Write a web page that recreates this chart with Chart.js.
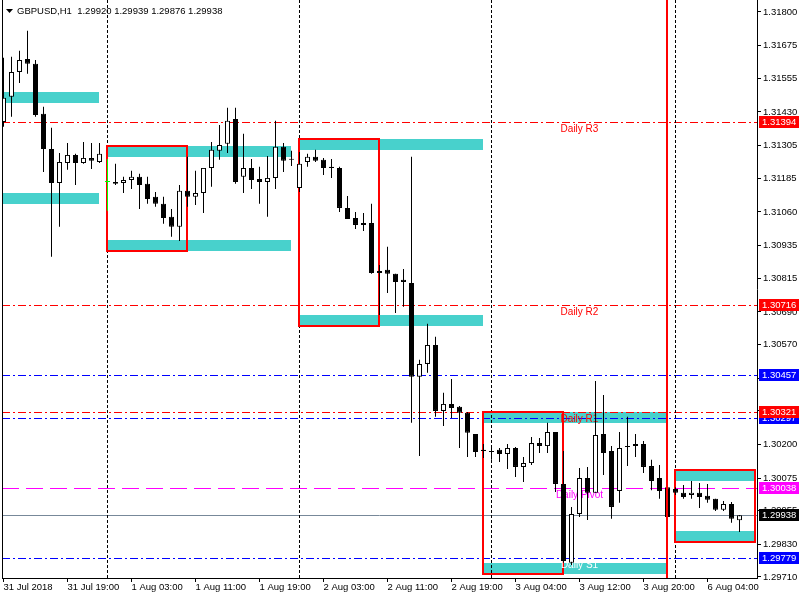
<!DOCTYPE html>
<html>
<head>
<meta charset="utf-8">
<title>GBPUSD,H1</title>
<script src="https://cdn.jsdelivr.net/npm/chart.js@4.4.0/dist/chart.umd.min.js"></script>
<style>
  html, body { margin: 0; padding: 0; background: #fff; }
</style>
</head>
<body>
<canvas id="chart" width="800" height="600"></canvas>
<script>
/////////////////////////////////////////////////////////////
// DATA

const SYMBOL = "GBPUSD,H1";

// H1 candles, one per hour, 31 Jul 11:00 .. 6 Aug 08:00
const OPEN = [
  1.31393, 1.31486, 1.31578, 1.31626, 1.31608, 1.31423, 1.31293, 1.31167, 1.31241, 1.31271,
  1.31241, 1.31260, 1.31245, 1.31171, 1.31171, 1.31167, 1.31178, 1.31190, 1.31164, 1.31116,
  1.31090, 1.31042, 1.31005, 1.31138, 1.31116, 1.31130, 1.31223, 1.31286, 1.31312, 1.31404,
  1.31190, 1.31223, 1.31182, 1.31171, 1.31186, 1.31301, 1.31256, 1.31149, 1.31245, 1.31264,
  1.31253, 1.31227, 1.31223, 1.31075, 1.31038, 1.31019, 1.31019, 1.30842, 1.30846, 1.30831,
  1.30809, 1.30797, 1.30450, 1.30498, 1.30568, 1.30324, 1.30350, 1.30339, 1.30317, 1.30239,
  1.30180, 1.30176, 1.30180, 1.30165, 1.30187, 1.30117, 1.30131, 1.30205, 1.30194, 1.30246,
  1.30054, 1.29762, 1.29943, 1.30076, 1.30021, 1.30239, 1.30176, 1.30028, 1.30194, 1.30202,
  1.30202, 1.30120, 1.30076, 1.30042, 1.30035, 1.30021, 1.30013, 1.30021, 1.30010, 1.29999,
  1.29958, 1.29980, 1.29920,
];
const HIGH = [
  1.31630, 1.31634, 1.31656, 1.31730, 1.31622, 1.31449, 1.31371, 1.31278, 1.31315, 1.31275,
  1.31319, 1.31315, 1.31315, 1.31256, 1.31238, 1.31190, 1.31212, 1.31201, 1.31190, 1.31134,
  1.31116, 1.31071, 1.31160, 1.31264, 1.31212, 1.31223, 1.31319, 1.31382, 1.31445, 1.31445,
  1.31349, 1.31256, 1.31227, 1.31267, 1.31397, 1.31315, 1.31286, 1.31282, 1.31275, 1.31290,
  1.31260, 1.31256, 1.31227, 1.31119, 1.31060, 1.31056, 1.31090, 1.30864, 1.30931, 1.30831,
  1.30849, 1.31264, 1.30513, 1.30646, 1.30598, 1.30391, 1.30442, 1.30342, 1.30320, 1.30239,
  1.30202, 1.30191, 1.30187, 1.30202, 1.30191, 1.30154, 1.30228, 1.30224, 1.30280, 1.30246,
  1.30176, 1.29969, 1.30113, 1.30117, 1.30435, 1.30383, 1.30194, 1.30246, 1.30302, 1.30239,
  1.30213, 1.30143, 1.30124, 1.30057, 1.30042, 1.30050, 1.30065, 1.30057, 1.30054, 1.29999,
  1.29991, 1.29987, 1.29939,
];
const LOW = [
  1.31375, 1.31412, 1.31537, 1.31571, 1.31412, 1.31208, 1.30894, 1.31005, 1.31216, 1.31160,
  1.31238, 1.31219, 1.31241, 1.31064, 1.31160, 1.31130, 1.31145, 1.31071, 1.31090, 1.31079,
  1.31016, 1.30968, 1.30953, 1.31079, 1.31086, 1.31056, 1.31153, 1.31253, 1.31278, 1.31164,
  1.31130, 1.31145, 1.31090, 1.31042, 1.31145, 1.31208, 1.31230, 1.31134, 1.31227, 1.31245,
  1.31197, 1.31186, 1.31060, 1.31034, 1.30997, 1.30990, 1.30831, 1.30679, 1.30760, 1.30686,
  1.30709, 1.30280, 1.30157, 1.30465, 1.30302, 1.30268, 1.30298, 1.30187, 1.30154, 1.30154,
  1.30150, 1.30143, 1.30135, 1.30109, 1.30080, 1.30061, 1.30124, 1.30168, 1.30168, 1.30024,
  1.29762, 1.29754, 1.29932, 1.29921, 1.30021, 1.30087, 1.29925, 1.29984, 1.30120, 1.30154,
  1.30094, 1.30031, 1.29999, 1.29928, 1.30013, 1.29999, 1.29999, 1.29965, 1.29984, 1.29954,
  1.29954, 1.29910, 1.29876,
];
const CLOSE = [
  1.31482, 1.31578, 1.31622, 1.31608, 1.31419, 1.31293, 1.31167, 1.31245, 1.31271, 1.31241,
  1.31260, 1.31249, 1.31275, 1.31171, 1.31164, 1.31178, 1.31190, 1.31160, 1.31108, 1.31090,
  1.31038, 1.31005, 1.31138, 1.31116, 1.31130, 1.31223, 1.31290, 1.31308, 1.31397, 1.31171,
  1.31223, 1.31178, 1.31171, 1.31186, 1.31301, 1.31249, 1.31253, 1.31238, 1.31264, 1.31249,
  1.31223, 1.31223, 1.31075, 1.31034, 1.31012, 1.31012, 1.30834, 1.30834, 1.30831, 1.30801,
  1.30801, 1.30450, 1.30498, 1.30568, 1.30324, 1.30350, 1.30335, 1.30317, 1.30243, 1.30172,
  1.30176, 1.30172, 1.30165, 1.30187, 1.30117, 1.30131, 1.30205, 1.30194, 1.30246, 1.30054,
  1.29769, 1.29943, 1.30076, 1.30021, 1.30235, 1.30168, 1.29969, 1.30187, 1.30191, 1.30194,
  1.30117, 1.30065, 1.30028, 1.29932, 1.30021, 1.30006, 1.30021, 1.30006, 1.29995, 1.29958,
  1.29980, 1.29925, 1.29938,
];

// time axis labels (bar index -> text)
const X_TICK_IDX = [0, 8, 16, 24, 32, 40, 48, 56, 64, 72, 80, 88];
const X_TICK_LABELS = [
  "31 Jul 2018", "31 Jul 19:00", "1 Aug 03:00", "1 Aug 11:00", "1 Aug 19:00", "2 Aug 03:00",
  "2 Aug 11:00", "2 Aug 19:00", "3 Aug 04:00", "3 Aug 12:00", "3 Aug 20:00", "6 Aug 04:00",
];

// price axis ticks
const Y_TICKS = [
  1.31800, 1.31675, 1.31555, 1.31430, 1.31305, 1.31185, 1.31060, 1.30935, 1.30815,
  1.30690, 1.30570, 1.30445, 1.30325, 1.30200, 1.30075, 1.29955, 1.29830, 1.29710,
];

// day separators (bar index)
const DAY_SEPS = [13, 37, 61, 84];

// supply / demand zones: [fromBar, toBar, upperPrice, lowerPrice]
const ZONES = [
  [0, 12, 1.31504, 1.31463],
  [0, 12, 1.31130, 1.31090],
  [13, 36, 1.31304, 1.31264],
  [13, 36, 1.30957, 1.30916],
  [37, 60, 1.31330, 1.31290],
  [37, 60, 1.30679, 1.30638],
  [60, 83, 1.30320, 1.30280],
  [60, 83, 1.29762, 1.29721],
  [84, 94, 1.30102, 1.30065],
  [84, 94, 1.29880, 1.29839],
];

// red range boxes: [fromBar, toBar, upperPrice, lowerPrice]
const RANGES = [
  [13, 23, 1.31304, 1.30916],
  [37, 47, 1.31330, 1.30638],
  [60, 70, 1.30320, 1.29721],
  [84, 94, 1.30106, 1.29839],
];

// vertical marker line (bar index)
const MARKER_BAR = 82.94;

// horizontal levels
const LEVEL_PRICES = [1.31394, 1.30716, 1.30457, 1.30297, 1.30321, 1.30038, 1.29938, 1.29779];
const LEVEL_NAMES = ["Daily R3", "Daily R2", "", "", "Daily R1", "Daily Pivot", "", "Daily S1"];
const LEVEL_KIND = ["r", "r", "b", "b", "r", "p", "bid", "b"];

/////////////////////////////////////////////////////////////
// STYLES

const FONT = '"Liberation Sans", Arial, sans-serif';
const KIND_COLOR = { r: "#ff0000", b: "#0000ff", p: "#ff00ff", bid: "#778899" };
const KIND_BOX = { r: "#ff0000", b: "#0000ff", p: "#ff00ff", bid: "#000000" };
const KIND_DASH = { r: [8, 3, 2, 3], b: [8, 3, 2, 3], p: [17, 7], bid: [] };
const LABEL_COLOR = { r: "#ff0000", b: "#ffffff", p: "#ff00ff", bid: "#000000" };
const LABEL_BAR = 72;

const candleColor = (i) =>
  CLOSE[i] > OPEN[i] ? "#ffffff" : CLOSE[i] < OPEN[i] ? "#000000" : "#00ff00";
const lineColor = (i) => (CLOSE[i] === OPEN[i] ? "#00ff00" : "#000000");

/////////////////////////////////////////////////////////////
// PLUGINS

const objects = {
  id: "objects",
  beforeDatasetsDraw(chart) {
    const { ctx, chartArea: a, scales: { x, y } } = chart;
    const py = (p) => Math.round(y.getPixelForValue(p));
    ctx.save();
    ctx.beginPath();
    ctx.rect(a.left, a.top, a.right - a.left, a.bottom - a.top);
    ctx.clip();

    // zones
    ctx.fillStyle = "#48d1cc";
    ZONES.forEach(([b0, b1, p0, p1]) => {
      const x0 = Math.floor(x.getPixelForValue(b0));
      const x1 = Math.floor(x.getPixelForValue(b1));
      ctx.fillRect(x0, py(p0), x1 - x0, py(p1) - py(p0));
    });

    // levels
    ctx.lineWidth = 1;
    LEVEL_PRICES.forEach((p, i) => {
      const k = LEVEL_KIND[i];
      ctx.strokeStyle = KIND_COLOR[k];
      ctx.setLineDash(KIND_DASH[k]);
      ctx.beginPath();
      ctx.moveTo(a.left, py(p) + 0.5);
      ctx.lineTo(a.right, py(p) + 0.5);
      ctx.stroke();
    });

    // day separators
    ctx.strokeStyle = "#000";
    ctx.setLineDash([3, 2]);
    DAY_SEPS.forEach((b) => {
      const xx = Math.floor(x.getPixelForValue(b)) + 0.5;
      ctx.beginPath();
      ctx.moveTo(xx, a.top);
      ctx.lineTo(xx, a.bottom);
      ctx.stroke();
    });
    ctx.setLineDash([]);

    // range boxes
    ctx.strokeStyle = "#ff0000";
    ctx.lineWidth = 2;
    RANGES.forEach(([b0, b1, p0, p1]) => {
      const x0 = Math.floor(x.getPixelForValue(b0));
      const x1 = Math.floor(x.getPixelForValue(b1));
      ctx.strokeRect(x0, py(p0), x1 - x0, py(p1) - py(p0));
    });

    // level names
    ctx.font = "10px " + FONT;
    ctx.textAlign = "center";
    ctx.textBaseline = "top";
    LEVEL_PRICES.forEach((p, i) => {
      if (!LEVEL_NAMES[i]) return;
      ctx.fillStyle = LABEL_COLOR[LEVEL_KIND[i]];
      ctx.fillText(LEVEL_NAMES[i], x.getPixelForValue(LABEL_BAR), py(p) + 2);
    });
    ctx.restore();
  },
  afterDraw(chart) {
    const { ctx, chartArea: a, scales: { x, y } } = chart;
    ctx.save();

    // vertical marker
    ctx.strokeStyle = "#ff0000";
    ctx.lineWidth = 2;
    const mx = Math.round(x.getPixelForValue(MARKER_BAR));
    ctx.beginPath();
    ctx.moveTo(mx, a.top);
    ctx.lineTo(mx, a.bottom);
    ctx.stroke();

    // left frame
    ctx.strokeStyle = "#000";
    ctx.lineWidth = 1;
    ctx.beginPath();
    ctx.moveTo(a.left + 0.5, a.top);
    ctx.lineTo(a.left + 0.5, a.bottom);
    ctx.stroke();

    // price tags on the axis
    ctx.font = "9.5px " + FONT;
    ctx.textAlign = "left";
    ctx.textBaseline = "middle";
    LEVEL_PRICES.forEach((p, i) => {
      const yy = Math.round(y.getPixelForValue(p));
      ctx.fillStyle = KIND_BOX[LEVEL_KIND[i]];
      ctx.fillRect(a.right + 2, yy - 6, 40, 12);
      ctx.fillStyle = "#fff";
      ctx.fillText(p.toFixed(5), a.right + 5, yy + 0.5);
    });

    // header
    const n = OPEN.length - 1;
    ctx.fillStyle = "#000";
    ctx.beginPath();
    ctx.moveTo(6, 9);
    ctx.lineTo(13, 9);
    ctx.lineTo(9.5, 13);
    ctx.closePath();
    ctx.fill();
    ctx.fillText(
      `${SYMBOL}  ${OPEN[n].toFixed(5)} ${HIGH[n].toFixed(5)} ${LOW[n].toFixed(5)} ${CLOSE[n].toFixed(5)}`,
      17, 11
    );
    ctx.restore();
  },
};

/////////////////////////////////////////////////////////////
// CHART

Chart.defaults.font.family = FONT;
Chart.defaults.font.size = 9.5;
Chart.defaults.color = "#000";

const bodies = OPEN.map((o, i) => ({ x: i, y: [o, CLOSE[i]] }));
const wicks = OPEN.map((o, i) => ({ x: i, y: [LOW[i], HIGH[i]] }));

const chart_config = {
  type: "bar",
  data: {
    datasets: [
      {
        label: "body",
        data: bodies,
        grouped: false,
        barThickness: 5,
        minBarLength: 1,
        borderWidth: 1,
        borderSkipped: false,
        inflateAmount: 0,
        backgroundColor: OPEN.map((o, i) => candleColor(i)),
        borderColor: OPEN.map((o, i) => lineColor(i)),
      },
      {
        label: "wick",
        data: wicks,
        grouped: false,
        barThickness: 1,
        borderWidth: 0,
        inflateAmount: 0,
        backgroundColor: OPEN.map((o, i) => lineColor(i)),
      },
    ],
  },
  options: {
    responsive: false,
    animation: false,
    devicePixelRatio: 1,
    layout: { padding: { left: 2, top: 0, right: 0, bottom: 0 } },
    scales: {
      x: {
        type: "linear",
        offset: false,
        min: -0.1875,
        max: 94.1875,
        afterBuildTicks: (s) => {
          s.ticks = X_TICK_IDX.map((v) => ({ value: v }));
        },
        afterFit: (s) => {
          s.height = 22;
          s.paddingLeft = 0;
          s.paddingRight = 0;
        },
        ticks: {
          autoSkip: false,
          maxRotation: 0,
          minRotation: 0,
          align: "start",
          padding: 0,
          callback: (v) => X_TICK_LABELS[X_TICK_IDX.indexOf(v)],
        },
        grid: { offset: false, drawOnChartArea: false, tickLength: 4, color: "#000" },
        border: { color: "#000" },
      },
      y: {
        position: "right",
        min: 1.29706,
        max: 1.31844,
        afterBuildTicks: (s) => {
          s.ticks = Y_TICKS.map((v) => ({ value: v }));
        },
        afterFit: (s) => {
          s.width = 43;
          s.paddingTop = 0;
          s.paddingBottom = 0;
        },
        ticks: {
          autoSkip: false,
          padding: 2,
          callback: (v) => v.toFixed(5),
        },
        grid: { drawOnChartArea: false, tickLength: 4, color: "#000" },
        border: { color: "#000" },
      },
    },
    plugins: {
      legend: { display: false },
      tooltip: { enabled: false },
    },
  },
  plugins: [objects],
};

const chart_ctx = document.getElementById("chart").getContext("2d");
const myChart = new Chart(chart_ctx, chart_config);
</script>
</body>
</html>
